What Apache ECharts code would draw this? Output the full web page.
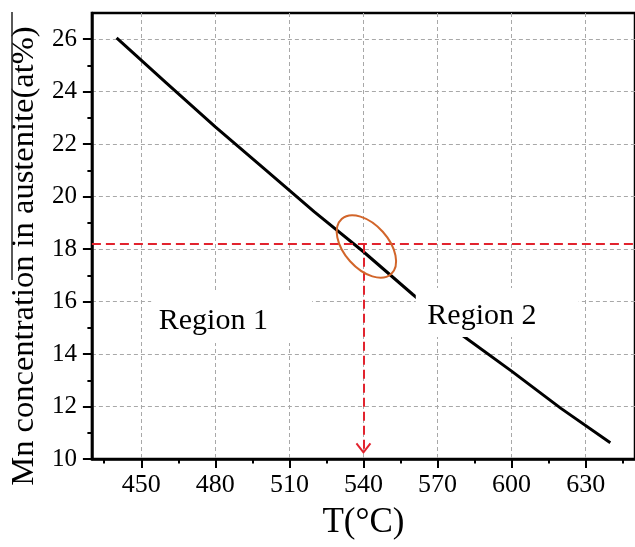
<!DOCTYPE html>
<html>
<head>
<meta charset="utf-8">
<script src="https://cdn.jsdelivr.net/npm/echarts@6/dist/echarts.min.js"></script>
<style>
  html, body { margin: 0; padding: 0; background: #fff; }
  #chart { width: 635px; height: 547px; }
</style>
</head>
<body>
<div id="chart"></div>
<script>
// data
const temps = [440, 460, 480, 500, 520, 540, 560, 580, 600, 620, 640];
const mnConc = [26.05, 24.35, 22.66, 21.05, 19.43, 17.9, 16.27, 14.72, 13.35, 11.93, 10.62];
const xTicks = [450, 480, 510, 540, 570, 600, 630];
const xMinorTicks = [435, 465, 495, 525, 555, 585, 615, 645];
const yTicks = [10, 12, 14, 16, 18, 20, 22, 24, 26];
const yMinorTicks = [11, 13, 15, 17, 19, 21, 23, 25];
const critTemp = 540;
const critConc = 18.2;

const font = "'Liberation Serif', 'DejaVu Serif', serif";
const red = '#e2232e';

var myChart = echarts.init(document.getElementById('chart'));

const gridLine = { show: true, lineStyle: { color: '#a8a8a8', type: [4, 3], width: 1 } };

myChart.setOption({
    animation: false,
    backgroundColor: '#fff',
    grid: {
        left: 90, top: 13, right: -5, bottom: 88,
        show: true, borderColor: '#000', borderWidth: 2.5, backgroundColor: 'transparent'
    },
    xAxis: [
        {
            type: 'value', min: 430, max: 650,
            name: 'T(°C)', nameLocation: 'middle', nameGap: 46,
            nameTextStyle: { fontFamily: font, fontSize: 35, color: '#000' },
            axisLine: { show: true, lineStyle: { color: '#000', width: 2.5 } },
            axisTick: { show: true, inside: false, length: 9, lineStyle: { color: '#000', width: 2 }, customValues: xTicks },
            axisLabel: { fontFamily: font, fontSize: 26, color: '#000', margin: 13, customValues: xTicks },
            splitLine: gridLine
        },
        {
            type: 'value', min: 430, max: 650, position: 'bottom',
            axisLine: { show: false },
            axisTick: { show: true, length: 4.5, lineStyle: { color: '#000', width: 2 }, customValues: xMinorTicks },
            axisLabel: { show: false },
            splitLine: { show: false }
        }
    ],
    yAxis: [
        {
            type: 'value', min: 10, max: 27,
            name: 'Mn concentration in austenite(at%)', nameLocation: 'middle', nameGap: 48,
            nameTextStyle: { fontFamily: font, fontSize: 32.5, color: '#000', padding: [0, 40, 0, 0] },
            axisLine: { show: true, lineStyle: { color: '#000', width: 2.5 } },
            axisTick: { show: true, length: 9, lineStyle: { color: '#000', width: 2 }, customValues: yTicks },
            axisLabel: { fontFamily: font, fontSize: 25, color: '#000', margin: 15, customValues: yTicks },
            splitLine: gridLine
        },
        {
            type: 'value', min: 10, max: 27, position: 'left',
            axisLine: { show: false },
            axisTick: { show: true, length: 4.5, lineStyle: { color: '#000', width: 2 }, customValues: yMinorTicks },
            axisLabel: { show: false },
            splitLine: { show: false }
        }
    ],
    series: [
        {
            type: 'line',
            data: temps.map((t, i) => [t, mnConc[i]]),
            symbol: 'none',
            lineStyle: { color: '#000', width: 3 },
            markLine: {
                silent: true,
                symbol: ['none', 'none'],
                label: { show: false },
                lineStyle: { color: red, type: [9, 5], width: 2 },
                data: [
                    { yAxis: critConc },
                    [{ coord: [critTemp, critConc] }, { coord: [critTemp, 10.25] }]
                ]
            }
        }
    ]
});

// annotations placed from data coordinates
function px(x, y) { return myChart.convertToPixel({ gridIndex: 0 }, [x, y]); }

function box(x0, y0, x1, y1) {
    const a = px(x0, y0), b = px(x1, y1);
    return { type: 'rect', z: 50, silent: true,
        shape: { x: a[0], y: a[1], width: b[0] - a[0], height: b[1] - a[1] },
        style: { fill: '#fff' } };
}
function label(text, x, y) {
    const p = px(x, y);
    return { type: 'text', z: 51, silent: true, x: p[0], y: p[1],
        style: { text: text, fontFamily: font, fontSize: 30, fill: '#000', align: 'center', verticalAlign: 'middle' } };
}

const c = px(critTemp + 1.2, critConc - 0.1);
const tip = px(critTemp, 10.25);

myChart.setOption({
    graphic: [
        box(454, 16.36, 519.2, 14.42),
        box(561.2, 16.52, 627.2, 14.65),
        label('Region 1', 479.2, 15.26),
        label('Region 2', 588, 15.45),
        {
            type: 'ellipse', z: 60, silent: true,
            x: c[0], y: c[1], rotation: -48 * Math.PI / 180,
            shape: { cx: 0, cy: 0, rx: 37, ry: 22 },
            style: { fill: 'none', stroke: '#d2652a', lineWidth: 2 }
        },
        {
            type: 'polyline', z: 60, silent: true,
            shape: { points: [[tip[0] - 7, tip[1] - 9], [tip[0], tip[1]], [tip[0] + 7, tip[1] - 9]] },
            style: { fill: 'none', stroke: red, lineWidth: 2 }
        },
        {
            type: 'line', z: 60, silent: true,
            shape: { x1: 12, y1: 12, x2: 12, y2: 280 },
            style: { stroke: '#222', lineWidth: 1.5 }
        }
    ]
});
</script>
</body>
</html>
